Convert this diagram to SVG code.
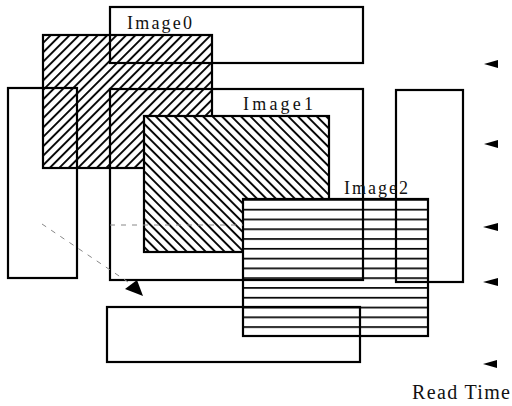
<svg xmlns="http://www.w3.org/2000/svg" width="512" height="406" viewBox="0 0 512 406">
<style>
.ol{fill:none;stroke:#000;stroke-width:2.2}
.lbl{font-family:"Liberation Serif",serif;font-size:18px;fill:#111}
.dash{fill:none;stroke:#888;stroke-width:1;stroke-dasharray:5 6}
.ar{fill:#000}
</style>
<defs>
<pattern id="pSlash" width="6.65" height="10" patternUnits="userSpaceOnUse" patternTransform="rotate(45)">
<line x1="1" y1="0" x2="1" y2="10" stroke="#000" stroke-width="1.9"/>
</pattern>
<pattern id="pBack" width="6.7" height="10" patternUnits="userSpaceOnUse" patternTransform="rotate(-45)">
<line x1="1" y1="0" x2="1" y2="10" stroke="#000" stroke-width="1.9"/>
</pattern>
<pattern id="pHor" x="0" y="199" width="10" height="9.786" patternUnits="userSpaceOnUse">
<line x1="0" y1="0" x2="10" y2="0" stroke="#000" stroke-width="3.4"/>
</pattern>
</defs>
<rect width="512" height="406" fill="#fff"/>

<g id="image0">
<rect x="43" y="35" width="169" height="133" fill="#fff"/>
<rect x="43" y="35" width="169" height="133" class="ol" style="fill:url(#pSlash)"/>
</g>
<g id="image1">
<rect x="144" y="116" width="185" height="136" fill="#fff"/>
<rect x="144" y="116" width="185" height="136" class="ol" style="fill:url(#pBack)"/>
</g>
<g id="image2">
<rect x="243" y="199" width="185" height="137" fill="#fff"/>
<rect x="243" y="199" width="185" height="137" class="ol" style="fill:url(#pHor)"/>
</g>

<g id="box-top"><rect x="110" y="7" width="253" height="56" class="ol"/></g>
<g id="box-main"><rect x="110" y="89" width="253" height="191" class="ol"/></g>
<g id="box-left"><rect x="8" y="88" width="69" height="190" class="ol"/></g>
<g id="box-right"><rect x="396" y="90" width="67" height="192" class="ol"/></g>
<g id="box-bottom"><rect x="107" y="307" width="253" height="55" class="ol"/></g>

<g id="labels">
<text class="lbl" x="127" y="29" textLength="65" lengthAdjust="spacing">Image0</text>
<text class="lbl" x="243" y="110" textLength="70" lengthAdjust="spacing">Image1</text>
<text class="lbl" x="344" y="194" textLength="64" lengthAdjust="spacing">Image2</text>
<text class="lbl" x="412" y="399" style="font-size:20px" textLength="98" lengthAdjust="spacing">Read Time</text>
</g>

<g id="connectors">
<line x1="42" y1="224" x2="128" y2="282" class="dash"/>
<line x1="110" y1="225" x2="243" y2="225" class="dash"/>
<polygon class="ar" points="125,289 137,280 143,296"/>
<polygon class="ar" points="484,64 498,60 498,68"/>
<polygon class="ar" points="484,144 498,140 498,148"/>
<polygon class="ar" points="483,227 498,223 498,231"/>
<polygon class="ar" points="483,282 498,278 498,286"/>
<polygon class="ar" points="483,364 497,360 497,368"/>
</g>
</svg>
